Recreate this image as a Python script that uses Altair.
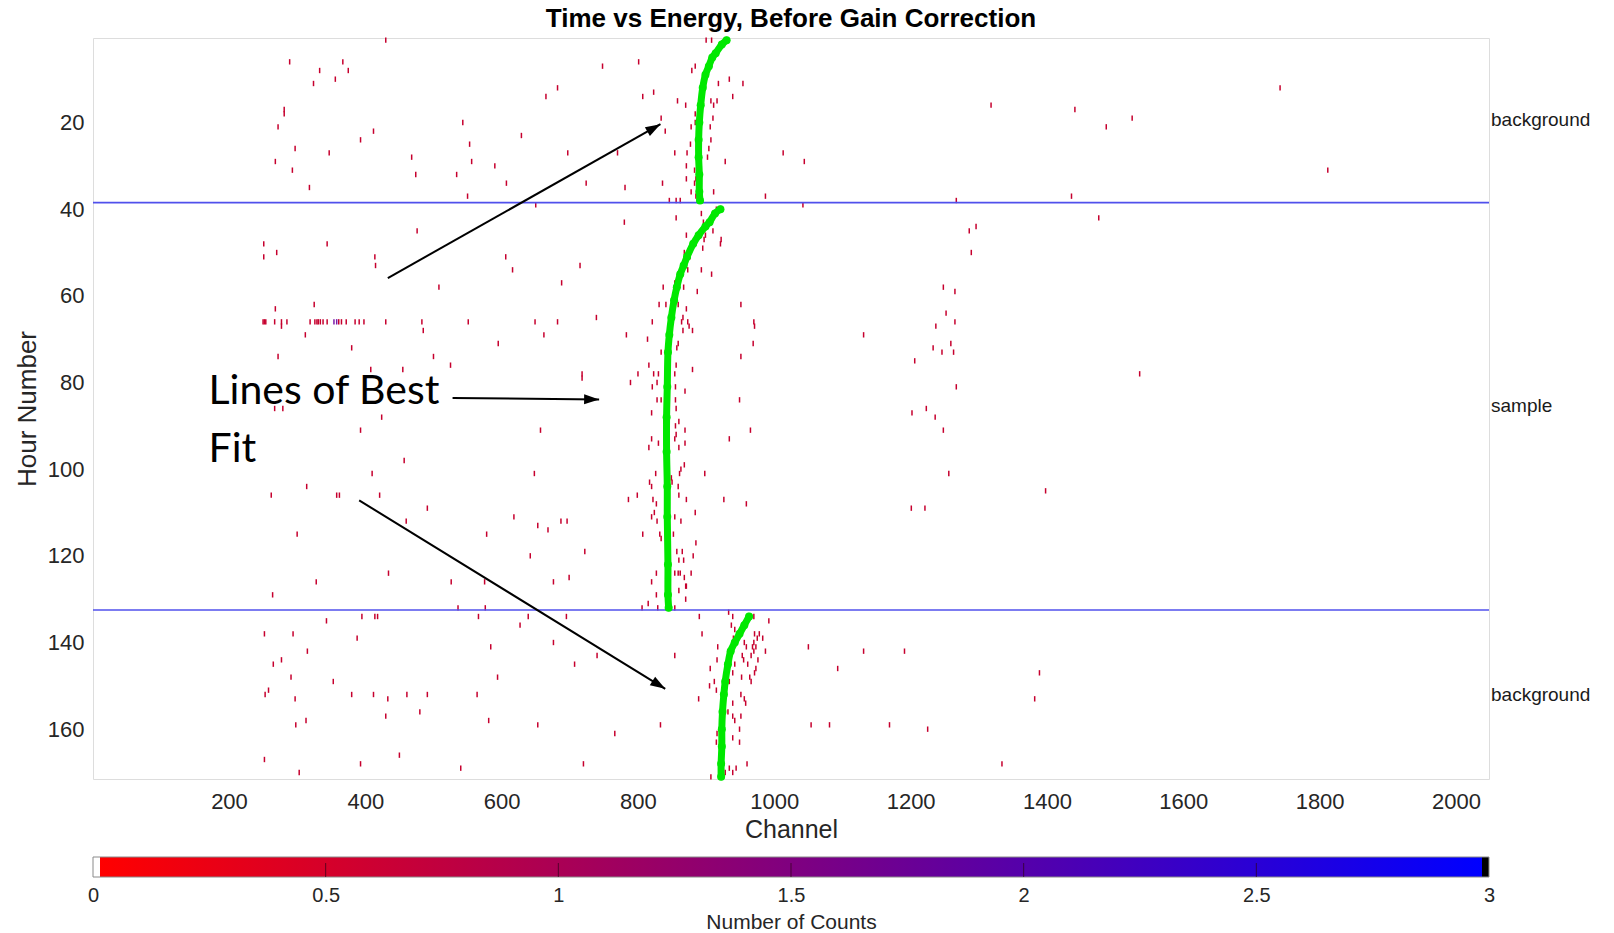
import math
import altair as alt
import pandas as pd

# ---------------- layout ----------------
W, H = 1396, 741          # plot area
PAD = {"left": 93, "top": 38, "right": 125, "bottom": 154}

# ---------------- axes / ticks ----------------
channel_domain = [0.5, 2048.5]
hour_domain = [0.5, 171.5]
x_tick_values = [200, 400, 600, 800, 1000, 1200, 1400, 1600, 1800, 2000]
y_tick_values = [20, 40, 60, 80, 100, 120, 140, 160]
cbar_tick_values = [0, 0.5, 1, 1.5, 2, 2.5, 3]

# ---------------- counts (cells with one count) ----------------
dash_channel = [
    # background, left part
    430, 289, 367, 333, 375, 324, 356, 281, 281, 272, 297, 268, 293, 318, 347, 393, 412, 543, 553, 556,
    534, 468, 474, 590, 607, 550, 629, 665, 682, 650, 476, 251, 251, 270, 344, 414, 415, 606, 616, 508, 688,
    # around first peak
    748, 801, 807, 823, 834, 840, 697, 770, 724, 781, 836, 854, 858, 870, 879, 884, 900, 908, 918, 934,
    939, 954, 907, 911, 916, 884, 884, 910, 906, 878, 877, 872, 871, 907, 904, 902, 883, 885, 883, 871,
    878, 885, 911, 928, 1013, 1044, 987, 1042, 846, 856, 862, 915, 856, 780, 893, 896, 871, 868, 897, 899,
    910, 922, 921, 876, 873, 893, 908, 895, 865, 854, 837, 715,
    # right, upper
    1318, 1441, 1487, 1525, 1742, 1812, 1267, 1436, 1476, 1286, 1296, 1289, 1248, 1265,
    # sample, left part
    268, 325,
    250, 252, 254, 267, 277, 285, 319, 326, 329, 331, 334, 338, 344, 354, 358, 361, 365, 372, 385, 391,
    398, 430, 483, 551, 649, 682,
    277, 312, 380, 485, 595, 272, 408, 455, 500, 525, 662, 267, 279, 393, 424, 657, 457, 410, 648, 314,
    262, 358, 362, 421, 491, 618, 653, 668, 460, 300, 578, 642, 434, 328, 526, 575, 676, 264,
    # lower background, left part
    536, 576, 639, 395, 414, 418, 343, 566, 627, 252, 294, 388, 676, 584, 315, 265, 277, 291, 353, 594,
    253, 258, 297, 380, 412, 433, 461, 491, 564, 480, 430, 298, 313, 581, 653, 252, 393, 450, 540, 303,
    # sample peak
    867, 887, 831, 841, 859, 871, 866, 821, 864, 873, 875, 880, 866, 859, 857, 814, 783, 739, 951, 970,
    971, 969, 951, 834, 856, 854, 816, 800, 789, 718, 718, 823, 830, 821, 828, 869, 880, 855, 828, 834,
    855, 856, 820, 949, 838, 860, 855, 856, 854, 869, 820, 816, 830, 860, 869, 965, 934, 868, 863, 861,
    898, 826, 817, 820, 849, 850, 859, 799, 786, 822, 827, 860, 926, 959, 871, 824, 820, 828, 854, 884,
    863, 687, 696,
    # sample end + lower background peak
    807, 832, 834, 852, 885, 722, 857, 865, 860, 867, 881, 827, 854, 859, 862, 868, 871, 878, 820, 699,
    860, 870, 827, 870, 815, 829, 806, 854, 695, 890, 933, 939, 970, 992, 937, 942, 894, 940, 971, 975,
    978, 983, 956, 959, 968, 970, 973, 917, 916, 953, 955, 966, 970, 976, 973, 971, 987, 1050, 740, 707,
    854, 906, 961, 964, 966, 942, 939, 952, 934, 905, 912, 915, 889, 951, 956, 958, 939, 932, 939, 942,
    951, 949, 833, 766, 916, 915, 939, 949, 720, 960, 934, 939, 944, 928, 907,
    # right, middle and lower
    1252, 1265, 1237, 1259, 1233, 1246, 1263, 1131, 1206, 1536, 1267, 1202, 1223, 1236, 1248, 1256, 1398,
    1201, 1221,
    1131, 1191, 1093, 1389, 1382, 1054, 1081, 1169, 1225, 1334,
]
dash_hour = [
    1, 6, 6, 8, 8, 11, 10, 17, 18, 21, 26, 29, 31, 35, 27, 24, 22, 20, 25, 29,
    32, 28, 32, 30, 34, 37, 23, 14, 12, 39, 45, 48, 51, 50, 48, 51, 53, 51, 54, 58, 57,
    7, 6, 14, 13, 19, 22, 27, 27, 34, 35, 34, 27, 15, 16, 8, 7, 1, 1, 11, 10,
    14, 11, 15, 16, 15, 18, 20, 19, 21, 21, 25, 27, 30, 24, 26, 28, 31, 33, 34, 33,
    36, 37, 36, 29, 27, 29, 37, 39, 38, 38, 38, 40, 42, 43, 41, 43, 46, 50, 47, 46,
    45, 47, 48, 51, 54, 54, 55, 49, 54, 57, 58, 53,
    16, 17, 21, 19, 12, 31, 38, 37, 42, 45, 44, 50, 58, 59,
    63, 62,
    66, 66, 66, 66, 66, 66, 66, 66, 66, 66, 66, 66, 66, 66, 66, 66, 66, 66, 66, 66,
    66, 66, 66, 66, 66, 66,
    67, 69, 72, 68, 71, 74, 77, 77, 74, 76, 69, 86, 86, 91, 88, 91, 98, 101, 101, 104,
    106, 106, 106, 106, 109, 111, 113, 114, 112, 115, 115, 120, 124, 126, 126, 126, 126, 129,
    132, 132, 134, 134, 134, 134, 135, 134, 136, 138, 138, 139, 140, 141, 142, 145, 144, 148, 149, 148,
    152, 151, 153, 152, 152, 153, 152, 152, 152, 156, 157, 159, 158, 158, 159, 167, 168, 166, 169, 170,
    58, 59, 62, 62, 62, 63, 65, 66, 66, 66, 67, 68, 68, 71, 72, 70, 69, 65, 62, 66,
    67, 71, 74, 73, 76, 78, 76, 78, 80, 78, 79, 78, 78, 81, 80, 82, 77, 81, 84, 84,
    84, 86, 87, 84, 89, 89, 90, 92, 93, 91, 93, 95, 94, 95, 94, 91, 93, 99, 100, 101,
    101, 101, 103, 104, 102, 103, 104, 106, 107, 107, 108, 106, 107, 108, 107, 110, 111, 112, 111, 110,
    112, 112, 112,
    115, 115, 116, 115, 117, 119, 119, 119, 121, 121, 120, 124, 124, 124, 124, 125, 127, 124, 126, 125,
    128, 127, 129, 130, 131, 132, 132, 132, 134, 134, 133, 134, 134, 135, 136, 137, 138, 139, 138, 139,
    138, 139, 140, 141, 141, 140, 141, 141, 144, 143, 144, 143, 142, 144, 146, 147, 142, 141, 143, 145,
    143, 146, 145, 148, 149, 145, 147, 148, 149, 150, 149, 151, 153, 152, 153, 154, 154, 156, 157, 158,
    157, 160, 159, 161, 161, 163, 162, 163, 168, 168, 169, 170, 169, 170, 171,
    64, 66, 67, 71, 72, 73, 73, 69, 75, 78, 81, 87, 86, 88, 91, 101, 105, 109, 109,
    142, 142, 146, 147, 153, 159, 159, 159, 160, 168,
]
double_count_cells = [(354, 66), (358, 66)]   # cells with 2 counts

# ---------------- fits (lines of best fit) ----------------
fit1_hours = [1, 2, 4, 5, 7, 9, 12, 16, 20, 24, 28, 32, 36, 38]
fit1_channels = [930, 923, 914, 909, 904, 899, 895, 892, 890, 889, 889, 890, 890, 891]
fit2_hours = [40, 41, 43, 44, 46, 48, 51, 53, 55, 58, 61, 65, 69, 73, 81, 88, 96, 104, 111, 122, 129, 132]
fit2_channels = [921, 913, 905, 899, 889, 881, 872, 867, 862, 857, 853, 849, 846, 844, 843, 842, 842,
                 843, 843, 844, 844, 845]
fit3_hours = [134, 136, 138, 140, 142, 145, 149, 152, 156, 160, 164, 168, 171]
fit3_channels = [963, 956, 949, 942, 936, 932, 928, 926, 924, 923, 923, 922, 922]

# ---------------- run boundaries and labels ----------------
boundary_hours = [38.5, 132.5]
region_labels = ["background", "sample", "background"]
region_hours = [19.5, 85.5, 152.0]

# ---------------- annotation ----------------
note_lines = ["Lines of Best", "Fit"]
note_channel = [170, 170]
note_hour = [85.0, 98.4]
arrow_start_channel = [433, 528, 391]
arrow_start_hour = [55.9, 83.6, 107.2]
arrow_end_channel = [833, 743, 840]
arrow_end_hour = [20.4, 83.9, 150.7]

# ---------------- styling ----------------
FONT = "Liberation Sans"
TXT = "#262626"
GREEN = "#00e800"
BLUE = "#5050ec"

xs = alt.Scale(domain=channel_domain, nice=False, zero=False)
ys = alt.Scale(domain=hour_domain, nice=False, zero=False, reverse=True)
cs = alt.Scale(domain=[cbar_tick_values[0], cbar_tick_values[-1]], nice=False, zero=False)

x_axis = alt.Axis(title="Channel", values=x_tick_values, format="d", grid=False, domain=False,
                  ticks=False, labelPadding=12, titlePadding=5, labelFontSize=22, titleFontSize=25,
                  labelFlush=False, labelColor=TXT, titleColor=TXT, labelFont=FONT, titleFont=FONT,
                  titleFontWeight="normal")
y_axis = alt.Axis(title="Hour Number", values=y_tick_values, format="d", grid=False, domain=False,
                  ticks=False, labelPadding=9, titlePadding=7, labelFontSize=22, titleFontSize=26,
                  labelFlush=False, labelColor=TXT, titleColor=TXT, labelFont=FONT, titleFont=FONT,
                  titleFontWeight="normal")
c_axis = alt.Axis(orient="bottom", offset=98, values=cbar_tick_values, format="~g",
                  title="Number of Counts", grid=False, domain=False, ticks=False, labelPadding=8,
                  titlePadding=6, labelFontSize=20, titleFontSize=21, labelFlush=False,
                  labelColor=TXT, titleColor=TXT, labelFont=FONT, titleFont=FONT,
                  titleFontWeight="normal")

# ---------------- data frames ----------------
dash_df = pd.DataFrame({"channel": dash_channel, "hour": dash_hour})
dash_df["count"] = [2 if (c, h) in double_count_cells else 1 for c, h in zip(dash_channel, dash_hour)]

fit_df = pd.concat([
    pd.DataFrame({"hour": fit1_hours, "channel": fit1_channels, "seg": "a"}),
    pd.DataFrame({"hour": fit2_hours, "channel": fit2_channels, "seg": "b"}),
    pd.DataFrame({"hour": fit3_hours, "channel": fit3_channels, "seg": "c"}),
], ignore_index=True)

px_ch = W / (channel_domain[1] - channel_domain[0])
px_hr = H / (hour_domain[1] - hour_domain[0])
arrow_df = pd.DataFrame({
    "c0": arrow_start_channel, "h0": arrow_start_hour,
    "c1": arrow_end_channel, "h1": arrow_end_hour,
})
arrow_df["angle"] = [
    math.degrees(math.atan2((c1 - c0) * px_ch, -(h1 - h0) * px_hr)) % 360
    for c0, h0, c1, h1 in zip(arrow_df.c0, arrow_df.h0, arrow_df.c1, arrow_df.h1)
]

# ---------------- layers ----------------
X = lambda f: alt.X(f, scale=xs, axis=x_axis)
Y = lambda f: alt.Y(f, scale=ys, axis=y_axis)

dashes = alt.Chart(dash_df).transform_calculate(
    y0="datum.hour - 0.62", y1="datum.hour + 0.62"
).mark_rule(strokeWidth=1.5).encode(
    x=X("channel:Q"),
    y=Y("y0:Q"),
    y2="y1:Q",
    color=alt.Color("count:Q", scale=alt.Scale(domain=[1, 2], range=["#c6002e", "#7a1aa8"]), legend=None),
)

bounds = alt.Chart(pd.DataFrame({"hour": boundary_hours})).mark_rule(
    color=BLUE, strokeWidth=1.6
).encode(y=Y("hour:Q"))

fit_line = alt.Chart(fit_df).mark_line(
    color=GREEN, strokeWidth=7, interpolate="catmull-rom", strokeCap="round"
).encode(
    x=X("channel:Q"),
    y=Y("hour:Q"),
    detail="seg:N",
    order="hour:Q",
)
fit_pts = alt.Chart(fit_df).mark_circle(color=GREEN, size=64, opacity=1).encode(
    x=X("channel:Q"),
    y=Y("hour:Q"),
)

arrow_lines = alt.Chart(arrow_df).mark_rule(color="black", strokeWidth=2).encode(
    x=X("c0:Q"), x2="c1:Q",
    y=Y("h0:Q"), y2="h1:Q",
)
arrow_heads = alt.Chart(arrow_df).mark_point(
    shape="M0,0L-0.34,1L0.34,1Z", filled=True, color="black", size=900, opacity=1
).encode(
    x=X("c1:Q"),
    y=Y("h1:Q"),
    angle=alt.Angle("angle:Q", scale=None),
)

note = alt.Chart(pd.DataFrame({"label": note_lines, "channel": note_channel, "hour": note_hour})).mark_text(
    font="Lato", fontSize=41, align="left", baseline="alphabetic", color="black"
).encode(
    x=X("channel:Q"),
    y=Y("hour:Q"),
    text="label:N",
)

regions = alt.Chart(pd.DataFrame({"label": region_labels, "hour": region_hours})).mark_text(
    font=FONT, fontSize=19, align="left", baseline="middle", color="#1a1a1a"
).encode(
    x=alt.value(W + 2),
    y=Y("hour:Q"),
    text="label:N",
)

main = alt.layer(dashes, bounds, fit_line, fit_pts, arrow_lines, arrow_heads, note, regions)

# ---------------- colour bar ----------------
gradient = {
    "gradient": "linear", "x1": 0, "x2": 1, "y1": 0, "y2": 0,
    "stops": [
        {"offset": 0.0, "color": "#ffffff"},
        {"offset": 0.005, "color": "#ffffff"},
        {"offset": 0.0051, "color": "#ff0000"},
        {"offset": 0.9949, "color": "#0000ff"},
        {"offset": 0.995, "color": "#000000"},
        {"offset": 1.0, "color": "#000000"},
    ],
}
cbar_df = pd.DataFrame({"lo": [cbar_tick_values[0]], "hi": [cbar_tick_values[-1]]})
cbar = alt.Chart(cbar_df).mark_rect(fill=gradient, stroke="#8a8a8a", strokeWidth=1).encode(
    x=alt.X("lo:Q", scale=cs, axis=c_axis),
    x2="hi:Q",
    y=alt.value(H + 78),
    y2=alt.value(H + 98),
)
cbar_marks = alt.Chart(pd.DataFrame({"v": cbar_tick_values[1:-1]})).mark_rule(
    color="#300018", strokeWidth=1, opacity=0.7
).encode(
    x=alt.X("v:Q", scale=cs, axis=c_axis),
    y=alt.value(H + 84),
    y2=alt.value(H + 98),
)
colorbar = alt.layer(cbar, cbar_marks)

chart = alt.layer(main, colorbar).resolve_scale(x="independent").properties(
    width=W,
    height=H,
    title=alt.TitleParams(
        text="Time vs Energy, Before Gain Correction", font=FONT, fontSize=26, fontWeight="bold",
        color="black", anchor="middle", frame="group", offset=-6,
    ),
    autosize=alt.AutoSizeParams(type="none"),
    padding=PAD,
).configure_view(stroke="#c8c8c8", strokeWidth=1).configure(background="white")

chart.save("out.html", embed_options={"renderer": "svg", "actions": False})
